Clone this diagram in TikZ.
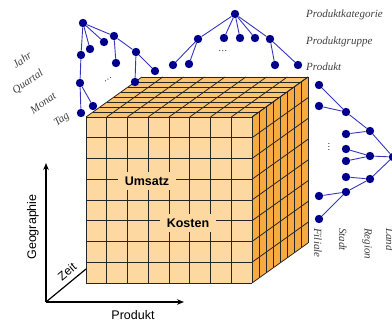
\documentclass[tikz,border=0pt]{standalone}
\usepackage{fontspec}
\setmainfont{Liberation Serif}
\newfontfamily\arialf{Liberation Sans}
\usetikzlibrary{arrows.meta}
\definecolor{frontc}{HTML}{FDD8A0}
\definecolor{topc}{HTML}{FBC570}
\definecolor{sidec}{HTML}{F6AA40}
\definecolor{dotc}{HTML}{00008C}
\definecolor{edgec}{HTML}{3535C0}
\begin{document}
\begin{tikzpicture}[x=1pt,y=-1pt,
 dot/.style={circle,fill=dotc,inner sep=0pt,minimum size=8.4pt},
 tedge/.style={draw=edgec,line width=0.9pt},
 lvl/.style={font=\fontsize{11}{13}\selectfont\itshape,text=black!75,inner sep=1pt},
 cubeline/.style={line width=0.8pt,draw=black!85},
 ax/.style={line width=1.2pt,-{Stealth[length=7pt,width=5.5pt]}},
 axlab/.style={font=\arialf\fontsize{12.5}{14}\selectfont,inner sep=1pt},
 cubelab/.style={font=\arialf\bfseries\fontsize{12.5}{14}\selectfont,fill=frontc,inner xsep=7pt,inner ysep=5pt}]
\useasboundingbox (0,0) rectangle (392,323);

% ---------- cube ----------
\fill[frontc] (86,117) rectangle (252,283);
\fill[topc] (86,117) -- (142,77) -- (308,77) -- (252,117) -- cycle;
\fill[sidec] (252,117) -- (308,77) -- (308,243) -- (252,283) -- cycle;
\foreach \i in {0,...,8} {
  \pgfmathsetmacro\xx{86+20.75*\i}
  \pgfmathsetmacro\yy{117+20.75*\i}
  \pgfmathsetmacro\dx{7*\i}
  \pgfmathsetmacro\dy{5*\i}
  \draw[cubeline] (\xx,117) -- (\xx,283);
  \draw[cubeline] (\xx,117) -- ++(56,-40);
  \draw[cubeline] (86,\yy) -- (252,\yy);
  \draw[cubeline] (252,\yy) -- ++(56,-40);
  \draw[cubeline] (86+\dx,117-\dy) -- ++(166,0);
  \draw[cubeline] (252+\dx,117-\dy) -- ++(0,166);
}
\node[cubelab] (ums) at (147,181) {Umsatz};
\node[cubelab] (kos) at (188,223) {Kosten};

% ---------- axes ----------
\coordinate (o) at (46,302);
\coordinate (gy) at (46,163);
\coordinate (px) at (184,302);
\coordinate (zt) at (86,269);
\draw[ax] (o) -- (gy);
\draw[ax] (o) -- (px);
\draw[line width=1.2pt] (o) -- (zt);
\node[axlab,rotate=90] (lgeo) at (33,227) {Geographie};
\node[axlab] (lprod) at (133,315) {Produkt};
\node[axlab,rotate=40,font=\arialf\fontsize{12}{14}\selectfont] (lzeit) at (67,272) {Zeit};

% ---------- time tree ----------
\node[dot] (t0) at (83,23) {};
\node[dot] (t1) at (114,36) {};
\node[dot] (t2) at (104,42) {};
\node[dot] (t3) at (90,49) {};
\node[dot] (t4) at (81,55) {};
\node[dot] (t5) at (136,52) {};
\node[dot] (t6) at (116,63) {};
\node[dot] (t7) at (155,71) {};
\node[dot] (t8) at (80,83) {};
\node[dot] (t9) at (135,82) {};
\node[dot] (t10) at (93,106) {};
\node[dot] (t11) at (81,113) {};
\foreach \a/\b in {t0/t1,t0/t2,t0/t3,t0/t4,t1/t5,t1/t6,t5/t9,t5/t7,t4/t8,t8/t11,t8/t10}
  \draw[tedge] (\a) -- (\b);
\node[rotate=35,inner sep=0pt] (tdots) at (108,80) {\small\dots};
\node[lvl,rotate=35] (ljahr) at (22,60) {Jahr};
\node[lvl,rotate=35] (lquartal) at (28,82) {Quartal};
\node[lvl,rotate=35] (lmonat) at (43,103) {Monat};
\node[lvl,rotate=35] (ltag) at (62,120) {Tag};

% ---------- product tree ----------
\node[dot] (p0) at (235,14) {};
\node[dot] (p1) at (198,39) {};
\node[dot] (p2) at (224,38) {};
\node[dot] (p3) at (240,38) {};
\node[dot] (p4) at (255,38) {};
\node[dot] (p5) at (270,39) {};
\node[dot] (p6) at (173,65) {};
\node[dot] (p7) at (189,64) {};
\node[dot] (p8) at (275,65) {};
\node[dot] (p9) at (298,65) {};
\foreach \a/\b in {p0/p1,p0/p2,p0/p3,p0/p4,p0/p5,p1/p6,p1/p7,p5/p8,p5/p9}
  \draw[tedge] (\a) -- (\b);
\node[inner sep=0pt] (pdots) at (223,51) {\small\dots};
\node[lvl,anchor=west] (lkat) at (305,15) {Produktkategorie};
\node[lvl,anchor=west] (lgrp) at (305,42) {Produktgruppe};
\node[lvl,anchor=west] (lprd) at (305,67) {Produkt};

% ---------- geography tree ----------
\node[dot] (g1) at (319,85) {};
\node[dot] (g2) at (319,106) {};
\node[dot] (g3) at (346,112) {};
\node[dot] (g4) at (370,131) {};
\node[dot] (g5) at (346,134) {};
\node[dot] (g6) at (346,149) {};
\node[dot] (g7) at (346,161) {};
\node[dot] (g8) at (370,156) {};
\node[dot] (g9) at (393,157) {};
\node[dot] (g10) at (346,177) {};
\node[dot] (g11) at (370,179) {};
\node[dot] (g12) at (346,192) {};
\node[dot] (g13) at (319,196) {};
\node[dot] (g14) at (319,219) {};
\foreach \a/\b in {g1/g3,g2/g3,g3/g4,g5/g4,g4/g9,g6/g8,g7/g8,g8/g9,g10/g11,g12/g11,g11/g9,g12/g13,g12/g14}
  \draw[tedge] (\a) -- (\b);
\node[rotate=90,inner sep=0pt] (gdots) at (329,147) {\small\dots};
\node[lvl,rotate=-90,anchor=west] (lfil) at (318,227) {Filiale};
\node[lvl,rotate=-90,anchor=west] (lsta) at (343,227) {Stadt};
\node[lvl,rotate=-90,anchor=west] (lreg) at (367,227) {Region};
\node[lvl,rotate=-90,anchor=west] (llan) at (390,227) {Land};
\end{tikzpicture}
\end{document}
